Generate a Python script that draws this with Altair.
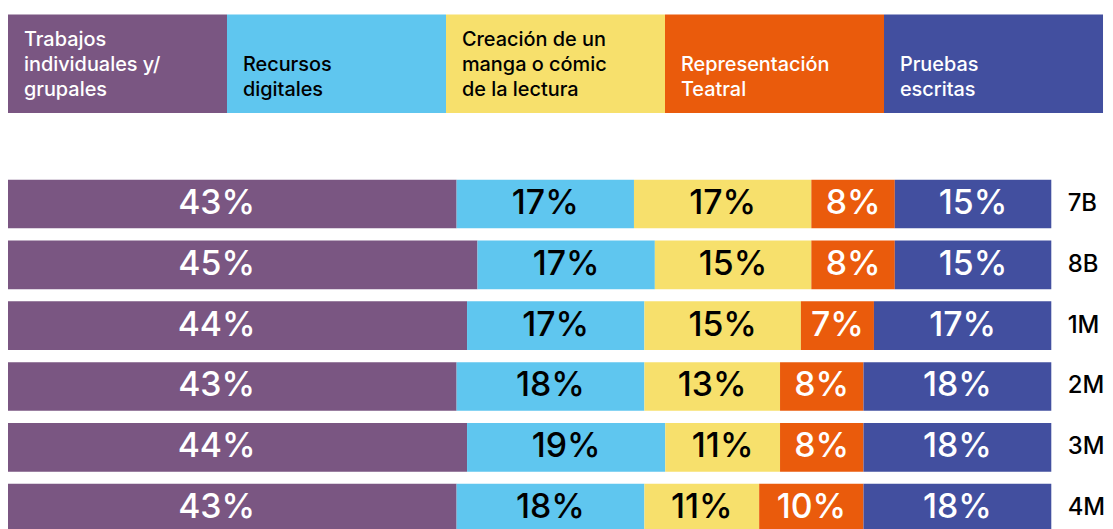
import altair as alt
import pandas as pd

grades = ["7B", "8B", "1M", "2M", "3M", "4M"]
categories = [
    "Trabajos individuales y/ grupales",
    "Recursos digitales",
    "Creación de un manga o cómic de la lectura",
    "Representación Teatral",
    "Pruebas escritas",
]
legend_lines = [
    ["Trabajos", "individuales y/", "grupales"],
    ["Recursos", "digitales"],
    ["Creación de un", "manga o cómic", "de la lectura"],
    ["Representación", "Teatral"],
    ["Pruebas", "escritas"],
]
trabajos = [43, 45, 44, 43, 44, 43]
recursos = [17, 17, 17, 18, 19, 18]
creacion = [17, 15, 15, 13, 11, 11]
teatral = [8, 8, 7, 8, 8, 10]
pruebas = [15, 15, 17, 18, 18, 18]

colors = ["#7A5682", "#5FC6EF", "#F7E06C", "#EA5B0C", "#424F9F"]
text_colors = ["white", "black", "black", "white", "white"]

FONT = "Inter"

series = [trabajos, recursos, creacion, teatral, pruebas]
rows = []
for ci, (cat, vals) in enumerate(zip(categories, series)):
    for g, v in zip(grades, vals):
        rows.append({"grade": g, "cat": cat, "order": ci, "value": v,
                     "label": f"{v}%", "tc": text_colors[ci]})
df = pd.DataFrame(rows)

leg_rows = []
for ci, (cat, lines) in enumerate(zip(categories, legend_lines)):
    n = len(lines)
    for li, line in enumerate(lines):
        leg_rows.append({"cat": cat, "line": line, "fromBottom": n - 1 - li,
                         "tc": text_colors[ci]})
leg_df = pd.DataFrame(leg_rows)
leg_box = pd.DataFrame({"cat": categories})

color_scale = alt.Scale(domain=categories, range=colors)
xband = alt.Scale(domain=categories, paddingInner=0, paddingOuter=0)

legend_rect = alt.Chart(leg_box).mark_rect().encode(
    x=alt.X("cat:N", scale=xband, axis=None, sort=categories),
    y=alt.value(0),
    y2=alt.value(99),
    color=alt.Color("cat:N", scale=color_scale, legend=None),
)
legend_text = alt.Chart(leg_df).transform_calculate(
    ypix="82 - 25 * datum.fromBottom"
).mark_text(
    align="left", baseline="alphabetic", dx=16, font=FONT, fontSize=20, fontWeight=500
).encode(
    x=alt.X("cat:N", scale=xband, axis=None, sort=categories, bandPosition=0),
    y=alt.Y("ypix:Q", scale=None),
    text="line:N",
    color=alt.Color("tc:N", scale=None),
)
legend = alt.layer(legend_rect, legend_text).properties(width=1101, height=99)

yscale = alt.Scale(domain=grades, paddingInner=0.2, paddingOuter=0.1)
xscale = alt.Scale(domain=[0, 100], nice=False, zero=True)
base = alt.Chart(df).transform_stack(
    stack="value", groupby=["grade"], as_=["v0", "v1"],
    sort=[alt.SortField("order", order="ascending")],
).transform_calculate(
    mid="datum.order == 0 ? 20 : (datum.v0 + datum.v1) / 2"
)

bars = base.mark_bar().encode(
    x=alt.X("v0:Q", scale=xscale, axis=None),
    x2="v1:Q",
    y=alt.Y("grade:N", sort=grades, scale=yscale,
            axis=alt.Axis(orient="right", title=None, domain=False, ticks=False,
                          labelPadding=16, labelFont=FONT, labelFontSize=24,
                          labelFontWeight=500, labelColor="black", labelAngle=0)),
    color=alt.Color("cat:N", scale=color_scale, legend=None),
)
labels = base.mark_text(font=FONT, fontSize=34, fontWeight=500,
                        baseline="middle", align="center").encode(
    x=alt.X("mid:Q", scale=xscale, axis=None),
    y=alt.Y("grade:N", sort=grades, scale=yscale),
    text="label:N",
    color=alt.Color("tc:N", scale=None),
)
barchart = alt.layer(bars, labels).properties(width=1049, height=367)

chart = alt.vconcat(legend, barchart, spacing=61).properties(
    padding={"left": 0, "top": 5, "right": 0, "bottom": 0}
).configure_view(stroke=None).configure_concat(spacing=61)

chart.save("out.html", embed_options={"renderer": "svg", "actions": False})
